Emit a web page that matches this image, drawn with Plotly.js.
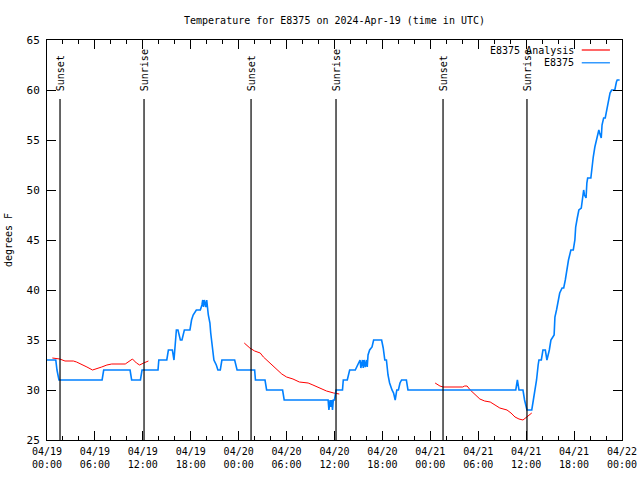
<!DOCTYPE html>
<html>
<head>
<meta charset="utf-8">
<script src="https://cdn.plot.ly/plotly-3.0.1.min.js"></script>
<style>html,body{margin:0;padding:0;background:#fff;}#chart{width:640px;height:480px;}</style>
</head>
<body>
<div id="chart"></div>
<script>
// Hours since 2024-04-19 00:00 UTC
const stationHours = [0, 1.1, 1.25, 1.5, 6.9, 7.1, 10.4, 10.6, 11.7, 11.9, 13.9, 14.0, 15.0, 15.2, 15.7, 15.9, 16.2, 16.4, 16.7, 16.9, 17.2, 17.9, 18.1, 18.3, 18.7, 19.2, 19.4, 19.5, 19.6, 19.7, 19.9, 20.0, 20.2, 20.4, 20.5, 20.7, 20.9, 21.2, 21.4, 21.7, 21.9, 23.5, 23.8, 26.0, 26.1, 27.3, 27.5, 29.5, 29.7, 35.2, 35.3, 35.45, 35.55, 35.65, 35.75, 35.85, 36.0, 36.2, 37.0, 37.1, 37.6, 37.9, 38.6, 39.2, 39.3, 39.5, 39.6, 39.7, 39.85, 40.0, 40.1, 40.2, 40.4, 40.7, 40.9, 41.9, 42.1, 42.3, 42.5, 42.7, 42.9, 43.2, 43.4, 43.6, 43.8, 44.0, 44.2, 44.4, 45.0, 45.2, 58.7, 58.9, 59.1, 59.6, 59.8, 60.1, 60.7, 60.9, 61.1, 61.3, 61.5, 61.6, 61.9, 62.1, 62.4, 62.6, 62.9, 63.1, 63.5, 63.6, 63.8, 64.2, 64.5, 64.7, 64.9, 65.1, 65.3, 65.6, 65.9, 66.1, 66.2, 66.4, 66.6, 66.9, 67.1, 67.2, 67.3, 67.5, 67.6, 67.7, 68.1, 68.2, 68.4, 68.6, 68.8, 69.1, 69.2, 69.4, 69.5, 69.7, 69.9, 70.1, 70.3, 70.5, 70.7, 71.1, 71.3, 71.4, 71.7];
const stationTemps = [33, 33, 32, 31, 31, 32, 32, 31, 31, 32, 32, 33, 33, 34, 34, 33, 36, 36, 35, 35, 36, 36, 37, 37.5, 38, 38, 38.5, 39, 38.3, 39, 38.3, 39, 37.5, 36.7, 35.7, 34, 33, 32.5, 32, 32, 33, 33, 32, 32, 31, 31, 30, 30, 29, 29, 28, 29, 28.3, 29, 28, 29, 29, 30, 30, 31, 31, 32, 32, 33, 32.2, 33, 32.2, 33, 32.3, 33, 32.3, 33.5, 34, 34.3, 35, 35, 34.2, 33, 33, 31.5, 30.7, 30, 29.7, 29, 30, 30, 30.7, 31, 31, 30, 30, 31, 30, 30, 29, 28, 28, 29, 30, 31, 32.5, 33, 33, 34, 34, 33, 34, 35, 35.5, 37.3, 38, 39.7, 40.2, 40.2, 41, 42, 43, 44, 44, 45, 46.3, 47.2, 48, 48.2, 49.3, 50, 49.5, 49.2, 50.7, 51.2, 51.2, 52, 53.3, 54.3, 55, 56, 55.7, 55.2, 56.5, 57.2, 57.2, 58, 58.8, 59.7, 60, 60, 60.8, 61, 61];

const analysisHours = [0.67, 1.6, 2.25, 3.3, 3.7, 4.3, 5.0, 5.7, 6.2, 6.85, 7.5, 8.1, 9.8, 10.2, 10.7, 11.2, 11.6, 12.1, 12.7, null,
  24.7, 25.4, 26.0, 26.7, 27.1, 27.9, 28.8, 29.4, 30.0, 30.8, 31.6, 32.7, 33.3, 34.2, 35.0, 35.9, 36.6, null,
  48.6, 49.2, 49.6, 52.05, 52.3, 52.6, 53.0, 53.6, 54.2, 54.8, 55.5, 56.1, 56.7, 57.6, 58.1, 58.6, 59.1, 59.6, 60.1, 60.7];
const analysisTemps = [33.2, 33.1, 32.9, 32.9, 32.8, 32.6, 32.3, 32.0, 32.1, 32.3, 32.5, 32.6, 32.6, 32.8, 33.1, 32.7, 32.5, 32.7, 32.9, null,
  34.7, 34.2, 33.9, 33.7, 33.3, 32.7, 32.1, 31.6, 31.3, 31.1, 30.8, 30.7, 30.5, 30.2, 29.9, 29.7, 29.6, null,
  30.7, 30.4, 30.3, 30.3, 30.4, 30.4, 30.0, 29.5, 29.1, 28.9, 28.8, 28.5, 28.2, 28.0, 27.7, 27.3, 27.1, 27.0, 27.3, 27.7];

const sunEventHours = [1.63, 12.15, 25.55, 36.19, 49.59, 60.1];
const sunEventLabels = ["Sunset", "Sunrise", "Sunset", "Sunrise", "Sunset", "Sunrise"];

const xTickHours = [0, 6, 12, 18, 24, 30, 36, 42, 48, 54, 60, 66, 72];
const xTickLabels = ["04/19<br>00:00", "04/19<br>06:00", "04/19<br>12:00", "04/19<br>18:00",
  "04/20<br>00:00", "04/20<br>06:00", "04/20<br>12:00", "04/20<br>18:00",
  "04/21<br>00:00", "04/21<br>06:00", "04/21<br>12:00", "04/21<br>18:00", "04/22<br>00:00"];
const seriesNames = ["E8375 Analysis", "E8375"];
const seriesColors = ["#ff0000", "#0080ff"];

const FONT = "DejaVu Sans Mono, Liberation Mono, monospace";

const traces = [
  {x: analysisHours, y: analysisTemps, type: "scatter", mode: "lines", name: seriesNames[0],
   line: {color: seriesColors[0], width: 1}, connectgaps: false},
  {x: stationHours, y: stationTemps, type: "scatter", mode: "lines", name: seriesNames[1],
   line: {color: seriesColors[1], width: 1.6}}
];

const shapes = [];
const annotations = [];
sunEventHours.forEach((h, i) => {
  shapes.push({type: "line", xref: "x", yref: "paper", x0: h, x1: h, y0: 0, y1: 0.8525,
    line: {color: "black", width: 1.2}});
  annotations.push({xref: "x", yref: "paper", x: h, y: 0.867, text: sunEventLabels[i],
    textangle: -90, showarrow: false, xanchor: "center", yanchor: "bottom",
    font: {family: FONT, size: 10, color: "black"}});
});
// gnuplot-style legend (text then line sample), top right
const legY = [0.975, 0.943];
seriesNames.forEach((n, i) => {
  annotations.push({xref: "paper", yref: "paper", x: 0.920, y: legY[i], text: n, showarrow: false,
    xanchor: "right", yanchor: "middle", font: {family: FONT, size: 10, color: "black"}});
  shapes.push({type: "line", xref: "paper", yref: "paper", x0: 0.930, x1: 0.979, y0: legY[i], y1: legY[i],
    line: {color: seriesColors[i], width: 1.2}});
});

const layout = {
  width: 640, height: 480,
  margin: {l: 47, r: 18, t: 40, b: 40, pad: 0},
  paper_bgcolor: "#fff", plot_bgcolor: "#fff",
  showlegend: false,
  font: {family: FONT, size: 10, color: "black"},
  title: {text: "Temperature for E8375 on 2024-Apr-19 (time in UTC)", xref: "paper", x: 0.5, xanchor: "center",
    y: 0.958, yanchor: "middle", font: {family: FONT, size: 10, color: "black"}},
  xaxis: {range: [0, 72], tickmode: "array", tickvals: xTickHours, ticktext: xTickLabels,
    ticks: "inside", ticklen: 9, tickcolor: "black", showline: true, linecolor: "black", linewidth: 1,
    mirror: "ticks", showgrid: false, zeroline: false, tickfont: {family: FONT, size: 10},
    ticklabelstandoff: 2,
    minor: {tickmode: "linear", tick0: 0, dtick: 2, ticks: "inside", ticklen: 4, tickcolor: "black", showgrid: false}},
  yaxis: {range: [25, 65], tickmode: "linear", tick0: 25, dtick: 5,
    ticks: "inside", ticklen: 9, tickcolor: "black", showline: true, linecolor: "black", linewidth: 1,
    mirror: "ticks", showgrid: false, zeroline: false, tickfont: {family: FONT, size: 11},
    ticklabelstandoff: 4,
    title: {text: "degrees F", standoff: 12, font: {family: FONT, size: 10}}},
  shapes: shapes,
  annotations: annotations
};

Plotly.newPlot("chart", traces, layout, {staticPlot: true, displayModeBar: false});
</script>
</body>
</html>
